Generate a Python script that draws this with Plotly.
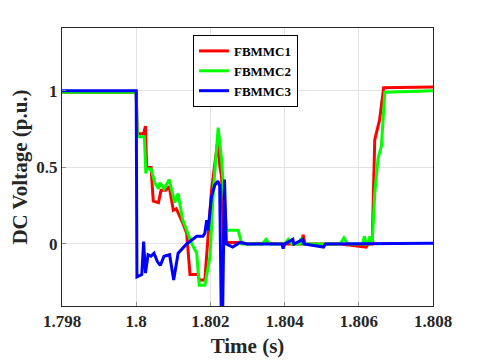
import plotly.graph_objects as go

# FBMMC1 (red)
t1 = [1.798, 1.8, 1.80003, 1.8002, 1.80025, 1.80028, 1.8004, 1.80046, 1.8006, 1.80067,
      1.8008, 1.80089, 1.801, 1.80108, 1.80125, 1.80136, 1.80145, 1.80167, 1.8017, 1.80185,
      1.80203, 1.80219, 1.80226, 1.8023, 1.80236, 1.8028, 1.8030, 1.8035, 1.8040, 1.80445,
      1.8045, 1.80455, 1.8055, 1.8062, 1.80625, 1.80636, 1.80643, 1.80656, 1.80667, 1.808]
v1 = [0.99, 0.99, 0.72, 0.72, 0.77, 0.5, 0.5, 0.28, 0.27, 0.35,
      0.35, 0.375, 0.22, 0.23, 0.14, 0.07, -0.2, -0.2, -0.235, -0.235,
      0.35, 0.66, 0.5, 0.44, 0.01, 0.01, 0.0, 0.005, 0.0, 0.0,
      0.06, 0.0, 0.0, -0.02, 0.0, 0.0, 0.68, 0.81, 1.02, 1.025]

# FBMMC2 (green)
t2 = [1.798, 1.8, 1.80003, 1.80022, 1.80026, 1.80028, 1.8004, 1.8005, 1.8006, 1.80064,
      1.80075, 1.80089, 1.80104, 1.80113, 1.80125, 1.80136, 1.8015, 1.80163, 1.8017, 1.80185,
      1.80199, 1.80208, 1.80221, 1.8023, 1.80243, 1.80275, 1.80284, 1.8034, 1.8035, 1.8036,
      1.8040, 1.8041, 1.8042, 1.8044, 1.80445, 1.8045, 1.8055, 1.8056, 1.8057, 1.8061,
      1.80615, 1.8062, 1.80625, 1.8063, 1.80636, 1.80643, 1.80652, 1.80661, 1.8067, 1.808]
v2 = [0.99, 0.99, 0.70, 0.70, 0.46, 0.49, 0.49, 0.40, 0.36, 0.40,
      0.36, 0.42, 0.27, 0.33, 0.16, 0.09, 0.0, -0.06, -0.27, -0.27,
      -0.08, 0.35, 0.76, 0.55, 0.09, 0.09, 0.0, 0.0, 0.03, 0.0,
      0.0, 0.03, 0.0, 0.0, 0.04, 0.0, 0.0, 0.04, 0.0, 0.0,
      0.05, 0.0, 0.0, 0.05, 0.0, 0.33, 0.56, 0.64, 0.99, 1.0]

# FBMMC3 (blue)
t3 = [1.798, 1.8, 1.80002, 1.80015, 1.8002, 1.80025, 1.80032, 1.8004, 1.80048, 1.80057,
      1.80065, 1.80075, 1.8009, 1.80101, 1.80113, 1.80122, 1.80136, 1.8015, 1.80163, 1.8018,
      1.80185, 1.8019, 1.80194, 1.80203, 1.80212, 1.8022, 1.80225, 1.80231, 1.80236, 1.80238,
      1.80243, 1.8026, 1.8028, 1.8030, 1.80393, 1.80396, 1.804, 1.80422, 1.80425, 1.80449,
      1.80452, 1.80505, 1.8051, 1.808]
v3 = [1.0, 1.0, -0.215, -0.2, 0.015, -0.19, -0.07, -0.08, -0.06, -0.115,
      -0.14, -0.08, -0.07, -0.235, -0.06, -0.035, 0.0, 0.026, 0.05, 0.05,
      0.07, 0.155, 0.09, 0.31, 0.385, 0.41, 0.38, -0.8, 0.42, 0.42,
      0.0, -0.02, 0.01, 0.0, 0.0, -0.03, 0.0, 0.03, 0.0, 0.03,
      0.0, -0.02, 0.0, 0.005]

x_ticks = [1.798, 1.8, 1.802, 1.804, 1.806, 1.808]
x_tick_labels = ["1.798", "1.8", "1.802", "1.804", "1.806", "1.808"]
y_ticks = [0, 0.5, 1]
y_tick_labels = ["0", "0.5", "1"]

font_family = "Liberation Serif"

fig = go.Figure()
fig.add_trace(go.Scatter(x=t1, y=v1, mode="lines", name="FBMMC1",
                         line=dict(color="#ff0000", width=3)))
fig.add_trace(go.Scatter(x=t2, y=v2, mode="lines", name="FBMMC2",
                         line=dict(color="#00ff00", width=3)))
fig.add_trace(go.Scatter(x=t3, y=v3, mode="lines", name="FBMMC3",
                         line=dict(color="#0000ff", width=3)))

axis_common = dict(showline=True, linecolor="#262626", linewidth=1, mirror=True,
                   showgrid=True, gridcolor="#e3e3e3", gridwidth=1,
                   ticks="inside", ticklen=4, tickcolor="#8c8c8c", zeroline=False,
                   tickfont=dict(family=font_family, size=17, color="#262626", weight="bold"))

fig.update_xaxes(range=[1.798, 1.808], tickvals=x_ticks, ticktext=x_tick_labels,
                 title=dict(text="Time (s)", font=dict(family=font_family, size=21,
                                                      color="#262626", weight="bold"),
                            standoff=7),
                 **axis_common)
fig.update_yaxes(range=[-0.405, 1.41], tickvals=y_ticks, ticktext=y_tick_labels,
                 title=dict(text="DC Voltage (p.u.)", font=dict(family=font_family, size=21,
                                                               color="#262626", weight="bold"),
                            standoff=13),
                 **axis_common)

fig.update_layout(
    width=472, height=352,
    margin=dict(l=54, r=47, t=20, b=54, autoexpand=False),
    paper_bgcolor="white", plot_bgcolor="white",
    showlegend=True,
    legend=dict(x=0.353, y=0.975, xanchor="left", yanchor="top",
                bgcolor="white", bordercolor="black", borderwidth=1,
                font=dict(family=font_family, size=13, color="black", weight="bold"),
                tracegroupgap=0, itemwidth=30),
)

fig.write_html("out.html")
